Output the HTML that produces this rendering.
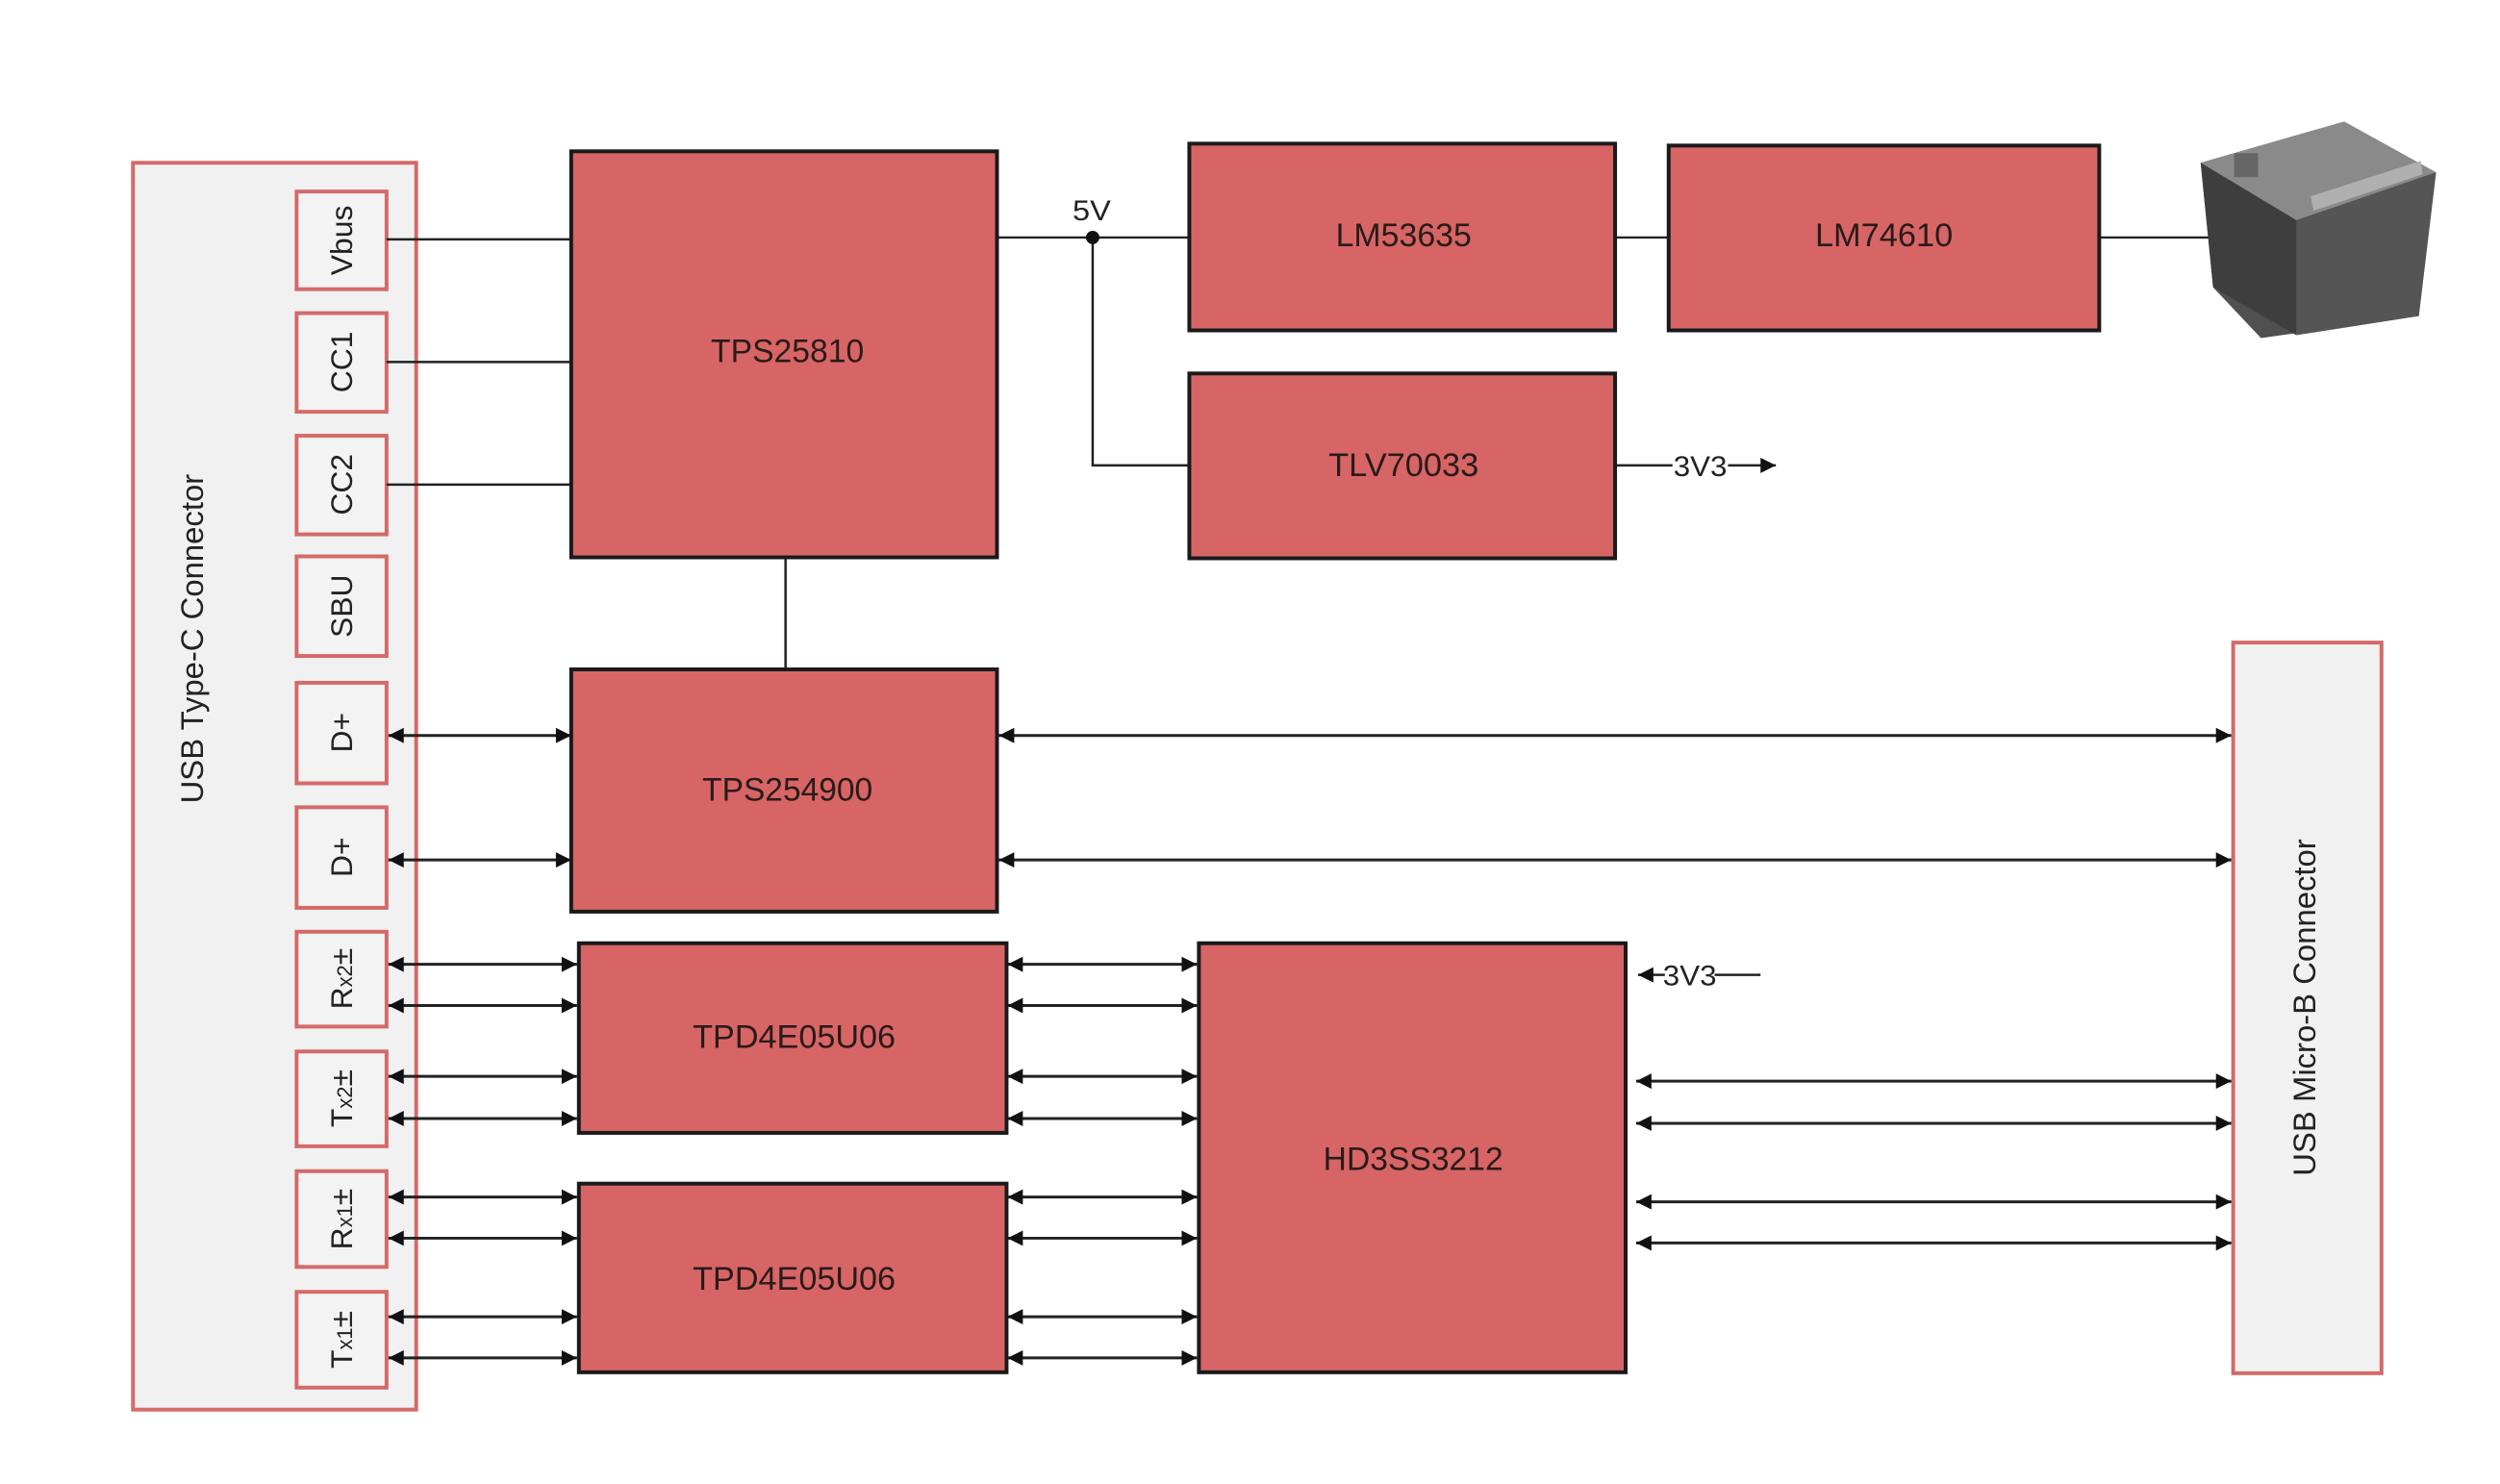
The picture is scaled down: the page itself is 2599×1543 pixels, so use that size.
<!DOCTYPE html>
<html><head><meta charset="utf-8"><style>
html,body{margin:0;padding:0;background:#fff}
svg{display:block}
text{font-family:"Liberation Sans",Arial,sans-serif}
</style></head><body>
<svg width="2599" height="1543" viewBox="0 0 2599 1543" xmlns="http://www.w3.org/2000/svg">
<defs>
<marker id="a" viewBox="0 0 10 10" refX="10" refY="5" markerWidth="18" markerHeight="16" markerUnits="userSpaceOnUse" orient="auto-start-reverse"><path d="M0,0L10,5L0,10z" fill="#111"/></marker>
</defs>
<rect width="2599" height="1543" fill="#fff"/>
<g transform="scale(0.9947,0.9957)">
<!-- USB Type-C connector -->
<rect x="139" y="170" width="296" height="1302" fill="#f1f1f1" stroke="#d46a6a" stroke-width="4"/>
<text transform="translate(212,667) rotate(-90)" font-size="33" text-anchor="middle" fill="#222">USB Type-C Connector</text>
<g fill="#f3f3f3" stroke="#d46a6a" stroke-width="4">
<rect x="310" y="200" width="94" height="102"/>
<rect x="310" y="327" width="94" height="103"/>
<rect x="310" y="455" width="94" height="103"/>
<rect x="310" y="581" width="94" height="104"/>
<rect x="310" y="713" width="94" height="105"/>
<rect x="310" y="843" width="94" height="105"/>
<rect x="310" y="973" width="94" height="99"/>
<rect x="310" y="1098" width="94" height="99"/>
<rect x="310" y="1223" width="94" height="100"/>
<rect x="310" y="1349" width="94" height="100"/>
</g>
<g font-size="32" fill="#222" text-anchor="middle">
<text transform="translate(368,251) rotate(-90)">Vbus</text>
<text transform="translate(368,378) rotate(-90)">CC1</text>
<text transform="translate(368,506) rotate(-90)">CC2</text>
<text transform="translate(368,633) rotate(-90)">SBU</text>
<text transform="translate(368,765) rotate(-90)">D+</text>
<text transform="translate(368,895) rotate(-90)">D+</text>
<text transform="translate(368,1022) rotate(-90)">R<tspan font-size="22">x2</tspan>±</text>
<text transform="translate(368,1147) rotate(-90)">T<tspan font-size="22">x2</tspan>±</text>
<text transform="translate(368,1273) rotate(-90)">R<tspan font-size="22">x1</tspan>±</text>
<text transform="translate(368,1399) rotate(-90)">T<tspan font-size="22">x1</tspan>±</text>
</g>

<!-- USB Micro-B -->
<rect x="2334" y="671" width="155" height="763" fill="#f1f1f1" stroke="#d46a6a" stroke-width="4"/>
<text transform="translate(2420,1052) rotate(-90)" font-size="33" text-anchor="middle" fill="#222">USB Micro-B Connector</text>

<!-- plain lines -->
<g stroke="#222" stroke-width="2.5" fill="none">
<line x1="404" y1="250" x2="597" y2="250"/>
<line x1="404" y1="378" x2="597" y2="378"/>
<line x1="404" y1="506" x2="597" y2="506"/>
<line x1="821" y1="581" x2="821" y2="699"/>
<line x1="1042" y1="248" x2="1245" y2="248"/>
<polyline points="1142,248 1142,486 1245,486"/>
<line x1="1688" y1="248" x2="1746" y2="248"/>
<line x1="2194" y1="248" x2="2310" y2="248"/>
<line x1="1688" y1="486" x2="1748" y2="486"/>
<line x1="1806" y1="486" x2="1856" y2="486" marker-end="url(#a)"/>
<line x1="1792" y1="1018" x2="1840" y2="1018"/>
<line x1="1740" y1="1018" x2="1712" y2="1018" marker-end="url(#a)"/>
</g>
<circle cx="1142" cy="248" r="7" fill="#111"/>
<text x="1141" y="230" font-size="30" text-anchor="middle" fill="#222" textLength="40" lengthAdjust="spacingAndGlyphs">5V</text>
<text x="1777" y="497" font-size="30" text-anchor="middle" fill="#222" textLength="56" lengthAdjust="spacingAndGlyphs">3V3</text>
<text x="1766" y="1029" font-size="30" text-anchor="middle" fill="#222" textLength="56" lengthAdjust="spacingAndGlyphs">3V3</text>

<!-- bidirectional arrows -->
<g stroke="#222" stroke-width="3" marker-start="url(#a)" marker-end="url(#a)">
<line x1="406" y1="768" x2="597" y2="768"/>
<line x1="406" y1="898" x2="597" y2="898"/>
<line x1="1044" y1="768" x2="2332" y2="768"/>
<line x1="1044" y1="898" x2="2332" y2="898"/>
<line x1="406" y1="1007" x2="603" y2="1007"/>
<line x1="406" y1="1050" x2="603" y2="1050"/>
<line x1="406" y1="1124" x2="603" y2="1124"/>
<line x1="406" y1="1168" x2="603" y2="1168"/>
<line x1="406" y1="1250" x2="603" y2="1250"/>
<line x1="406" y1="1293" x2="603" y2="1293"/>
<line x1="406" y1="1375" x2="603" y2="1375"/>
<line x1="406" y1="1418" x2="603" y2="1418"/>
<line x1="1053" y1="1007" x2="1251" y2="1007"/>
<line x1="1053" y1="1050" x2="1251" y2="1050"/>
<line x1="1053" y1="1124" x2="1251" y2="1124"/>
<line x1="1053" y1="1168" x2="1251" y2="1168"/>
<line x1="1053" y1="1250" x2="1251" y2="1250"/>
<line x1="1053" y1="1293" x2="1251" y2="1293"/>
<line x1="1053" y1="1375" x2="1251" y2="1375"/>
<line x1="1053" y1="1418" x2="1251" y2="1418"/>
<line x1="1710" y1="1129" x2="2332" y2="1129"/>
<line x1="1710" y1="1173" x2="2332" y2="1173"/>
<line x1="1710" y1="1255" x2="2332" y2="1255"/>
<line x1="1710" y1="1298" x2="2332" y2="1298"/>
</g>

<!-- blocks -->
<g fill="#d76565" stroke="#1a1a1a" stroke-width="4">
<rect x="597" y="158" width="445" height="424"/>
<rect x="597" y="699" width="445" height="253"/>
<rect x="605" y="985" width="447" height="198"/>
<rect x="605" y="1236" width="447" height="197"/>
<rect x="1253" y="985" width="446" height="448"/>
<rect x="1243" y="150" width="445" height="195"/>
<rect x="1744" y="152" width="450" height="193"/>
<rect x="1243" y="390" width="445" height="193"/>
</g>
<g font-size="34" fill="#2a1a1a" text-anchor="middle">
<text x="823" y="378" textLength="160" lengthAdjust="spacingAndGlyphs">TPS25810</text>
<text x="823" y="836" textLength="178" lengthAdjust="spacingAndGlyphs">TPS254900</text>
<text x="830" y="1094" textLength="212" lengthAdjust="spacingAndGlyphs">TPD4E05U06</text>
<text x="830" y="1347" textLength="212" lengthAdjust="spacingAndGlyphs">TPD4E05U06</text>
<text x="1477" y="1222" textLength="188" lengthAdjust="spacingAndGlyphs">HD3SS3212</text>
<text x="1467" y="257" textLength="142" lengthAdjust="spacingAndGlyphs">LM53635</text>
<text x="1969" y="257" textLength="144" lengthAdjust="spacingAndGlyphs">LM74610</text>
<text x="1467" y="497" textLength="157" lengthAdjust="spacingAndGlyphs">TLV70033</text>
</g>

<!-- battery -->
<g>
<polygon points="2300,170 2450,127 2546,180 2528,330 2363,353 2313,300" fill="#505050"/>
<polygon points="2300,170 2450,127 2546,180 2400,230" fill="#8a8a8a"/>
<polygon points="2300,170 2400,230 2400,350 2313,300" fill="#3e3e3e"/>
<polygon points="2400,230 2546,180 2528,330 2400,350" fill="#555"/>
<polygon points="2415,205 2530,168 2532,182 2418,220" fill="#b0b0b0"/>
<rect x="2335" y="160" width="25" height="25" fill="#666"/>
</g>
</g>
</svg>
</body></html>
